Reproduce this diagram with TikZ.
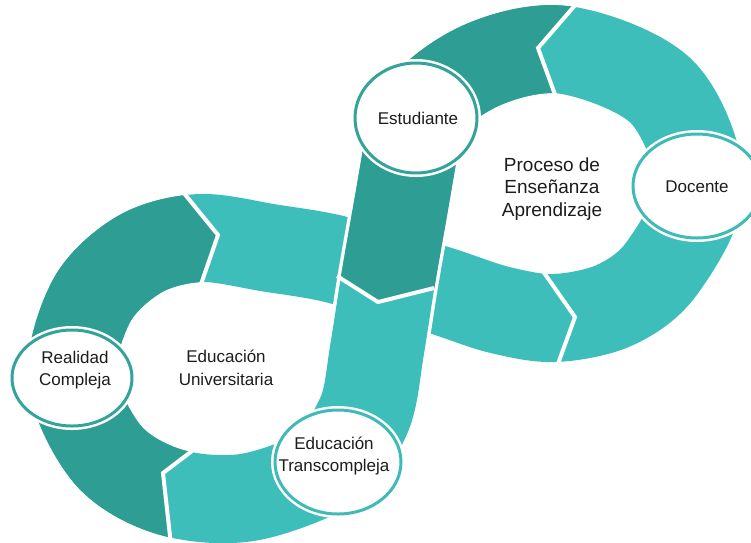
\documentclass[tikz,border=0pt]{standalone}
\usepackage{fontspec}
\setmainfont{Liberation Sans}
\usetikzlibrary{shapes.geometric}
\definecolor{tdark}{RGB}{46,157,148}
\definecolor{tlight}{RGB}{61,190,187}
\definecolor{bdark}{RGB}{52,163,155}
\definecolor{blight}{RGB}{64,186,182}
\definecolor{txt}{RGB}{28,28,28}
\begin{document}
\begin{tikzpicture}[x=1pt,y=-1pt,
  bubble/.style={ellipse, inner sep=0, fill=white, draw=white, line width=8},
  lbl/.style={font=\fontsize{17}{22.5}\selectfont, text=txt, align=center, inner sep=0},
  biglbl/.style={font=\fontsize{19}{22.5}\selectfont, text=txt, align=center, inner sep=0},
  sepline/.style={draw=white, line width=4, line join=miter, line cap=butt}]
\useasboundingbox (0,0) rectangle (751,542);
\clip (0,0) rectangle (751,542);
\def\ribpath{plot[smooth cycle, tension=0.55] coordinates {
  (250,497) (170,492) (108,455) (72,378) (92,300) (140,254) (200,238)
  (270,248) (330,258) (390,275) (445,292) (500,310) (555,318) (615,305)
  (662,268) (700,186) (662,92) (565,50) (480,66) (416,118) (402,200)
  (388,280) (377,350) (366,410) (338,462)}}
\def\bandpath{plot[smooth, tension=0.55] coordinates {
  (416,118) (402,200) (388,280) (377,350) (366,410) (338,462)}}
% full ribbon
\draw[tlight, line width=88] \ribpath;
\begin{scope}
  \clip (170,176) -- (218,235) -- (196,295) -- (240,370) -- (203,443)
        -- (163,473) -- (172,560) -- (-10,560) -- (-10,176) -- cycle;
  \draw[tdark, line width=88] \ribpath;
\end{scope}
\begin{scope}
  \clip (590,-10) -- (538,48) -- (560,110) -- (470,200) -- (345,205)
        -- (300,-10) -- cycle;
  \draw[tdark, line width=88] \ribpath;
\end{scope}
% separators on the loops
\coordinate (s1a) at (183,192); \coordinate (s1b) at (218,235); \coordinate (s1c) at (199,290);
\coordinate (s2a) at (192,451); \coordinate (s2b) at (163,473); \coordinate (s2c) at (171,545);
\coordinate (s3a) at (577,3);   \coordinate (s3b) at (538,48);  \coordinate (s3c) at (557,100);
\coordinate (s4a) at (540,267); \coordinate (s4b) at (575,317); \coordinate (s4c) at (555,372);
\draw[sepline] (s1a) -- (s1b) -- (s1c);
\draw[sepline] (s2a) -- (s2b) -- (s2c);
\draw[sepline] (s3a) -- (s3b) -- (s3c);
\draw[sepline] (s4a) -- (s4b) -- (s4c);
% crossing band
\begin{scope}
  \clip (300,195) rectangle (480,352);
  \draw[white, line width=101] \bandpath;
\end{scope}
\draw[tlight, line width=94] \bandpath;
\begin{scope}
  \clip (250,-10) -- (540,-10) -- (540,261) -- (378,302) -- (250,222) -- cycle;
  \draw[tdark, line width=94] \bandpath;
\end{scope}
\coordinate (s5a) at (337,276); \coordinate (s5b) at (378,302); \coordinate (s5c) at (434,288);
\draw[sepline] (s5a) -- (s5b) -- (s5c);
% bubbles: white halo + white fill, then a teal ring as a filled annulus
\node[bubble, minimum width=120, minimum height=96] (real) at (72,378) {};
\fill[bdark, even odd rule] (real.center) ellipse [x radius=61.5, y radius=49.5]
      (real.center) ellipse [x radius=58.5, y radius=46.5];
\node[bubble, minimum width=122, minimum height=110] (est) at (416,118) {};
\fill[bdark, even odd rule] (est.center) ellipse [x radius=62.5, y radius=56.5]
      (est.center) ellipse [x radius=59.5, y radius=53.5];
\node[bubble, minimum width=128, minimum height=104] (doc) at (697,186) {};
\fill[blight, even odd rule] (doc.center) ellipse [x radius=65.5, y radius=53.5]
      (doc.center) ellipse [x radius=62.5, y radius=50.5];
\node[bubble, minimum width=126, minimum height=104] (trans) at (338,462) {};
\fill[blight, even odd rule] (trans.center) ellipse [x radius=64.5, y radius=53.5]
      (trans.center) ellipse [x radius=61.5, y radius=50.5];
% labels
\node[lbl] (realT) at (75,370) {Realidad\\Compleja};
\node[lbl] (estT) at (418,118) {Estudiante};
\node[lbl] (docT) at (697,187) {Docente};
\node[lbl] (transT) at (334,456) {Educación\\Transcompleja};
\node[lbl] (eu) at (226,368) {Educación\\Universitaria};
\node[biglbl] (pea) at (552,189) {Proceso de\\Enseñanza\\Aprendizaje};
\end{tikzpicture}
\end{document}
